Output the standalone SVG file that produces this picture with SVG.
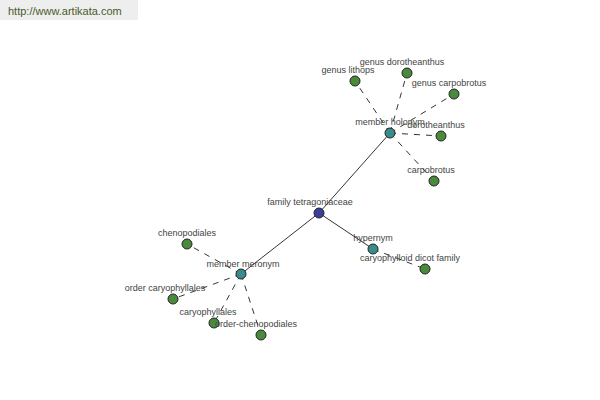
<svg xmlns="http://www.w3.org/2000/svg" width="600" height="400" viewBox="0 0 600 400">
<style>
text{font-family:"Liberation Sans",Arial,sans-serif;font-size:9px;fill:#444;text-anchor:middle}
.n circle{stroke:#222;stroke-width:1}
.leaf{fill:#4a8a3c}
.mid{fill:#3a8c8c}
.root{fill:#3c3c9c}
.solid{stroke:#000;stroke-width:0.8;fill:none}
.dash{stroke:#000;stroke-width:0.8;stroke-dasharray:6,6;fill:none}
</style>
<rect x="0" y="0" width="138" height="20" fill="#eeeeee"/>
<text x="8" y="15" style="text-anchor:start;font-size:11px;fill:#4a5a2a">http://www.artikata.com</text>
<g id="connectors">
<line class="solid" x1="319" y1="213" x2="390" y2="133"/>
<line class="solid" x1="319" y1="213" x2="241" y2="274"/>
<line class="solid" x1="319" y1="213" x2="373" y2="249"/>
<line class="dash" x1="390" y1="133" x2="355" y2="81"/>
<line class="dash" x1="390" y1="133" x2="407" y2="73"/>
<line class="dash" x1="390" y1="133" x2="454" y2="94"/>
<line class="dash" x1="390" y1="133" x2="441" y2="136"/>
<line class="dash" x1="390" y1="133" x2="434" y2="181"/>
<line class="dash" x1="241" y1="274" x2="187" y2="244"/>
<line class="dash" x1="241" y1="274" x2="173" y2="299"/>
<line class="dash" x1="241" y1="274" x2="214" y2="323"/>
<line class="dash" x1="241" y1="274" x2="261" y2="335"/>
<line class="dash" x1="373" y1="249" x2="425" y2="269"/>
</g>
<g id="family-tetragoniaceae" class="n"><circle class="root" cx="319" cy="213" r="5"/><text x="310" y="205">family tetragoniaceae</text></g>
<g id="member-holonym" class="n"><circle class="mid" cx="390" cy="133" r="5"/><text x="390" y="125">member holonym</text></g>
<g id="hypernym" class="n"><circle class="mid" cx="373" cy="249" r="5"/><text x="373" y="241">hypernym</text></g>
<g id="member-meronym" class="n"><circle class="mid" cx="241" cy="274" r="5"/><text x="243" y="267">member meronym</text></g>
<g id="genus-lithops" class="n"><circle class="leaf" cx="355" cy="81" r="5"/><text x="348" y="73">genus lithops</text></g>
<g id="genus-dorotheanthus" class="n"><circle class="leaf" cx="407" cy="73" r="5"/><text x="402" y="65">genus dorotheanthus</text></g>
<g id="genus-carpobrotus" class="n"><circle class="leaf" cx="454" cy="94" r="5"/><text x="449" y="86">genus carpobrotus</text></g>
<g id="dorotheanthus" class="n"><circle class="leaf" cx="441" cy="136" r="5"/><text x="436" y="128">dorotheanthus</text></g>
<g id="carpobrotus" class="n"><circle class="leaf" cx="434" cy="181" r="5"/><text x="431" y="173">carpobrotus</text></g>
<g id="chenopodiales" class="n"><circle class="leaf" cx="187" cy="244" r="5"/><text x="187" y="236">chenopodiales</text></g>
<g id="order-caryophyllales" class="n"><circle class="leaf" cx="173" cy="299" r="5"/><text x="165" y="291">order caryophyllales</text></g>
<g id="caryophyllales" class="n"><circle class="leaf" cx="214" cy="323" r="5"/><text x="208" y="315">caryophyllales</text></g>
<g id="order-chenopodiales" class="n"><circle class="leaf" cx="261" cy="335" r="5"/><text x="256" y="327">order-chenopodiales</text></g>
<g id="caryophylloid-dicot-family" class="n"><circle class="leaf" cx="425" cy="269" r="5"/><text x="410" y="261">caryophylloid dicot family</text></g>
</svg>
